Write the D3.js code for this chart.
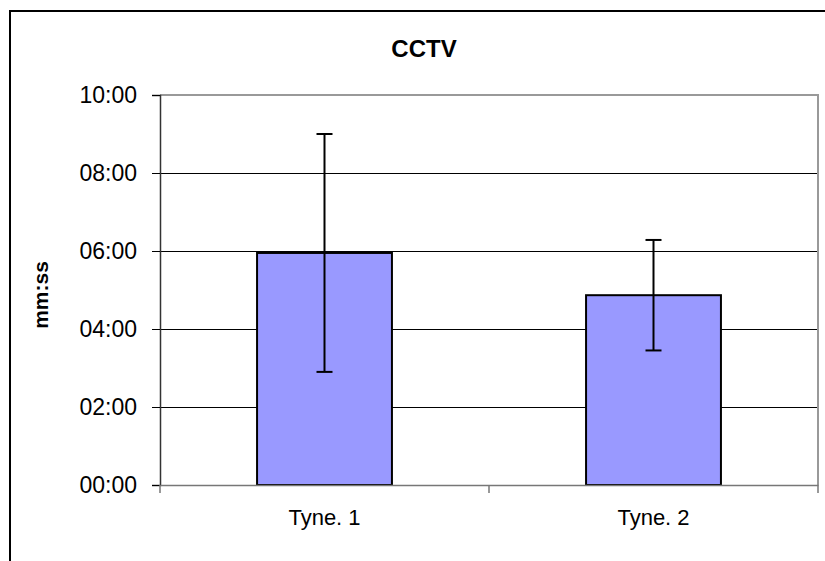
<!DOCTYPE html>
<html><head><meta charset="utf-8">
<script src="https://cdn.jsdelivr.net/npm/d3@7"></script>
<style>body{margin:0;background:#fff}svg{display:block}text{font-family:"Liberation Sans",Arial,sans-serif}</style>
</head><body><svg id="c" width="825" height="561"></svg>
<script>
// values in seconds
const categories = ["Tyne. 1", "Tyne. 2"];
const means = [357, 292];
const errors = [183, 85];
const yTicks = [0, 120, 240, 360, 480, 600];
const title = "CCTV";
const yTitle = "mm:ss";

const svg = d3.select("#c");
const m = {left:160, top:95, right:818, bottom:485};
const x = d3.scaleBand().domain(categories).range([m.left, m.right]).padding(0);
const y = d3.scaleLinear().domain([0, 600]).range([m.bottom, m.top]);
const fmt = s => String(Math.floor(s/60)).padStart(2,"0") + ":" + String(s%60).padStart(2,"0");

// outer border
svg.append("rect").attr("x",10).attr("y",11).attr("width",840).attr("height",580)
  .attr("fill","none").attr("stroke","#000").attr("stroke-width",2);

// gridlines
svg.append("g").selectAll("line").data(yTicks.filter(d=>d>0 && d<600)).join("line")
  .attr("x1",m.left).attr("x2",m.right).attr("y1",d=>y(d)).attr("y2",d=>y(d))
  .attr("stroke","#000").attr("stroke-width",1).attr("shape-rendering","crispEdges");

// plot border top & right (gray)
svg.append("path").attr("d",`M${m.left},${y(600)}H${m.right}V${m.bottom}`)
  .attr("fill","none").attr("stroke","#999").attr("stroke-width",2);

// bars
const bw = x.bandwidth()*0.41;
svg.append("g").selectAll("rect").data(categories).join("rect")
  .attr("x",d=>x(d)+x.bandwidth()/2-bw/2).attr("width",bw)
  .attr("y",(d,i)=>y(means[i])).attr("height",(d,i)=>y(0)-y(means[i]))
  .attr("fill","#9999FF").attr("stroke","#000").attr("stroke-width",2);

// error bars
const eb = svg.append("g").attr("stroke","#000").attr("stroke-width",2);
categories.forEach((c,i)=>{
  const cx = x(c)+x.bandwidth()/2;
  const t = y(means[i]+errors[i]), b = y(means[i]-errors[i]);
  eb.append("line").attr("x1",cx).attr("x2",cx).attr("y1",t).attr("y2",b);
  eb.append("line").attr("x1",cx-8).attr("x2",cx+8).attr("y1",t).attr("y2",t);
  eb.append("line").attr("x1",cx-8).attr("x2",cx+8).attr("y1",b).attr("y2",b);
});

// y axis
const ya = svg.append("g").attr("transform",`translate(${m.left},0)`)
  .call(d3.axisLeft(y).tickValues(yTicks).tickFormat(fmt).tickSize(8).tickPadding(15));
ya.select(".domain").attr("stroke","#333").attr("stroke-width",1.5);
ya.selectAll(".tick line").attr("stroke","#000");
ya.selectAll("text").attr("font-size",23).attr("fill","#000").attr("font-family","Liberation Sans, Arial, sans-serif");

// x axis
const xa = svg.append("g").attr("transform",`translate(0,${m.bottom})`)
  .call(d3.axisBottom(x).tickSize(0).tickPadding(24));
xa.select(".domain").attr("stroke","#777").attr("stroke-width",1.5);
xa.selectAll("text").attr("font-size",22).attr("fill","#000").attr("font-family","Liberation Sans, Arial, sans-serif");
// category separator ticks
const sepTicks = [x(categories[0]), x(categories[1]), m.right];
svg.append("g").selectAll("line").data(sepTicks).join("line")
  .attr("x1",d=>d).attr("x2",d=>d).attr("y1",m.bottom).attr("y2",m.bottom+8)
  .attr("stroke","#777").attr("stroke-width",1.5);

// title
svg.append("text").attr("x",424).attr("y",57).attr("text-anchor","middle")
  .attr("font-size",24).attr("font-weight","bold").text(title);
// y title
svg.append("text").attr("transform","translate(48,295) rotate(-90)").attr("text-anchor","middle")
  .attr("font-size",21).attr("font-weight","bold").text(yTitle);
</script></body></html>
